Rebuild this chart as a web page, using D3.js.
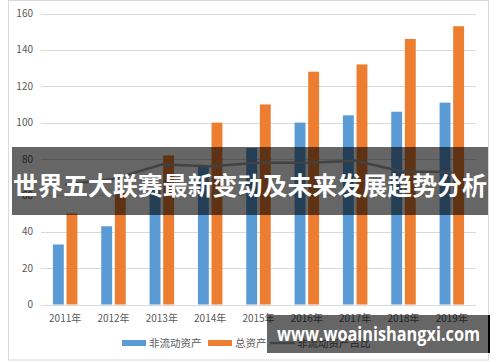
<!DOCTYPE html>
<html>
<head>
<meta charset="utf-8">
<script src="https://cdn.jsdelivr.net/npm/d3@7"></script>
<style>
  body { margin: 0; background: #fff; }
  svg { display: block; font-family: "Noto Sans CJK SC", "Microsoft YaHei", sans-serif; }
</style>
</head>
<body>
<svg id="chart" width="500" height="362"></svg>
<script>
// data
var years = ['2011年', '2012年', '2013年', '2014年', '2015年', '2016年', '2017年', '2018年', '2019年'];
var nonCurrent = [33, 43, 63, 76, 86, 100, 104, 106, 111];
var totalAssets = [50, 62, 82, 100, 110, 128, 132, 146, 153];
var ratio = [66, 69, 77, 76, 78, 78, 79, 73, 73];
var yTicks = [0, 20, 40, 60, 80, 100, 120, 140, 160];
var seriesNames = ['非流动资产', '总资产', '非流动资产占比'];
var colors = ['#5B9BD5', '#ED7D31', '#A5A5A5'];

var svg = d3.select('#chart');

// chart frame
svg.append('rect')
  .attr('x', 8.5).attr('y', 0.5)
  .attr('width', 480).attr('height', 359.5)
  .attr('fill', '#fff').attr('stroke', '#D9D9D9');

var x = d3.scaleBand().domain(years).range([41, 476]);
var y = d3.scaleLinear().domain([0, 160]).range([304.5, 13.5]);
var groupW = 24.5;
var x1 = d3.scaleBand().domain([0, 1]).range([0, groupW]).paddingInner(0.2);

// grid
svg.append('g').selectAll('line')
  .data(yTicks)
  .enter().append('line')
  .attr('x1', 41).attr('x2', 476)
  .attr('y1', function(d) { return Math.round(y(d)) + 0.5; })
  .attr('y2', function(d) { return Math.round(y(d)) + 0.5; })
  .attr('stroke', '#D9D9D9').attr('stroke-width', 1);

svg.append('g').selectAll('text')
  .data(yTicks)
  .enter().append('text')
  .attr('x', 33).attr('y', function(d) { return y(d); })
  .attr('dy', '0.35em')
  .attr('text-anchor', 'end')
  .attr('font-size', 10)
  .attr('fill', '#595959')
  .text(function(d) { return d; });

// category labels
svg.append('g').selectAll('text')
  .data(years)
  .enter().append('text')
  .attr('x', function(d) { return x(d) + x.bandwidth() / 2; })
  .attr('y', 318).attr('dy', '0.35em')
  .attr('text-anchor', 'middle')
  .attr('font-size', 10)
  .attr('fill', '#595959')
  .text(function(d) { return d; });

// bars
var off = (x.bandwidth() - groupW) / 2;
[nonCurrent, totalAssets].forEach(function(vals, s) {
  svg.append('g').selectAll('rect')
    .data(vals)
    .enter().append('rect')
    .attr('x', function(d, i) { return x(years[i]) + off + x1(s); })
    .attr('width', x1.bandwidth())
    .attr('y', function(d) { return y(d); })
    .attr('height', function(d) { return y(0) - y(d); })
    .attr('fill', colors[s]);
});

// ratio line
var line = d3.line()
  .x(function(d, i) { return x(years[i]) + x.bandwidth() / 2; })
  .y(function(d) { return y(d); });
svg.append('path')
  .datum(ratio)
  .attr('d', line)
  .attr('fill', 'none')
  .attr('stroke', colors[2])
  .attr('stroke-width', 2.5)
  .attr('stroke-linejoin', 'round');

// legend
var legX = [122, 208, 270];
var leg = svg.append('g');
seriesNames.forEach(function(name, i) {
  if (i < 2) {
    leg.append('rect')
      .attr('x', legX[i]).attr('y', 340)
      .attr('width', 24).attr('height', 6)
      .attr('fill', colors[i]);
  } else {
    leg.append('line')
      .attr('x1', legX[i]).attr('x2', legX[i] + 25)
      .attr('y1', 343).attr('y2', 343)
      .attr('stroke', colors[i]).attr('stroke-width', 2.5);
  }
  leg.append('text')
    .attr('x', legX[i] + 27).attr('y', 343).attr('dy', '0.35em')
    .attr('font-size', 10.5)
    .attr('fill', '#595959')
    .text(name);
});

// title banner overlay
svg.append('rect')
  .attr('x', 12).attr('y', 147)
  .attr('width', 476).attr('height', 68)
  .attr('fill', 'rgba(0,0,0,0.6)');
svg.append('text')
  .attr('x', 250).attr('y', 186).attr('dy', '0.35em')
  .attr('text-anchor', 'middle')
  .attr('font-size', 25)
  .attr('font-weight', 'bold')
  .attr('fill', '#fff')
  .attr('textLength', 474)
  .attr('lengthAdjust', 'spacingAndGlyphs')
  .text('世界五大联赛最新变动及未来发展趋势分析');

// watermark
svg.append('rect')
  .attr('x', 267).attr('y', 315)
  .attr('width', 223).attr('height', 38)
  .attr('fill', 'rgba(0,0,0,0.6)');
svg.append('rect')
  .attr('x', 488).attr('y', 315)
  .attr('width', 2).attr('height', 38)
  .attr('fill', '#000');
svg.append('text')
  .attr('x', 277).attr('y', 334).attr('dy', '0.35em')
  .attr('font-family', 'Open Sans, sans-serif')
  .attr('font-size', 20)
  .attr('font-weight', 'bold')
  .attr('fill', '#fff')
  .attr('textLength', 203)
  .attr('lengthAdjust', 'spacingAndGlyphs')
  .text('www.woainishangxi.com');
</script>
</body>
</html>
